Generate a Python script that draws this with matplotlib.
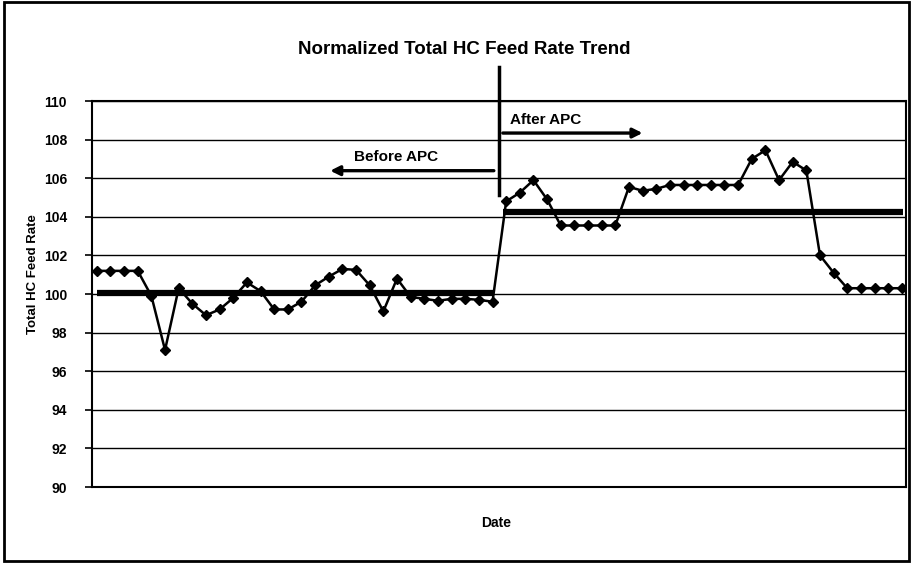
import matplotlib
matplotlib.use("Agg")
import matplotlib.pyplot as plt
from matplotlib.patches import Rectangle
import numpy as np

plt.rcParams['font.family'] = ['Liberation Sans', 'DejaVu Sans']
plt.rcParams['font.weight'] = 'bold'

title = "Normalized Total HC Feed Rate Trend"
y_label = "Total HC Feed Rate"
x_label = "Date"
y_ticks = [90, 92, 94, 96, 98, 100, 102, 104, 106, 108, 110]

feed_before = [101.2, 101.2, 101.2, 101.2, 99.9, 97.1, 100.3, 99.5, 98.9, 99.2,
               99.8, 100.6, 100.15, 99.2, 99.2,
               99.6, 100.45, 100.9, 101.3, 101.25, 100.45, 99.1, 100.8, 99.85, 99.75,
               99.65, 99.75, 99.75, 99.7, 99.6]
feed_after = [104.8, 105.25, 105.9, 104.9, 103.55, 103.55, 103.55, 103.55, 103.55, 105.55,
              105.35, 105.45, 105.65, 105.65, 105.65, 105.65, 105.65, 105.65, 107.0, 107.45,
              105.9, 106.85, 106.4, 102.0, 101.1, 100.3, 100.3, 100.3, 100.3, 100.3]
mean_before = 100.05
mean_after = 104.25

feed = feed_before + feed_after
x = np.arange(len(feed))
n_b = len(feed_before)

fig = plt.figure(figsize=(9.13, 5.64), dpi=100)
ax = fig.add_axes([0.1008, 0.1365, 0.8915, 0.6844])

ax.plot(x, feed, color='black', lw=1.8, marker='D', ms=5, zorder=4)
ax.plot([x[0], x[n_b - 1]], [mean_before, mean_before], color='black', lw=4.5,
        solid_capstyle='butt', zorder=3)
ax.plot([x[n_b - 1] + 0.8, x[-1] + 0.1], [mean_after, mean_after], color='black', lw=4.5,
        solid_capstyle='butt', zorder=3)

ax.set_ylim(90, 110)
ax.set_xlim(-0.35, len(feed) - 0.7)
ax.set_yticks(y_ticks)
ax.set_yticklabels([str(t) for t in y_ticks], fontsize=10, fontweight='bold')
ax.set_xticks([])
ax.grid(axis='y', color='black', lw=1.0)
ax.set_axisbelow(True)
ax.tick_params(axis='y', direction='out', length=5, width=1.2, pad=13)
for s in ax.spines.values():
    s.set_linewidth(1.5)

fig.text(33 / 913, 0.514, y_label, rotation=90, ha='center', va='center',
         fontsize=9.5, fontweight='bold')
fig.text(496 / 913, 1 - 523 / 564, x_label, ha='center', va='center',
         fontsize=10, fontweight='bold')
fig.text(464 / 913, 1 - 50 / 564, title, ha='center', va='center', fontsize=13.5,
         fontweight='bold')

# divider line
sep = n_b - 0.55
ax.plot([sep, sep], [105.15, 111.75], color='black', lw=2.5, clip_on=False, zorder=5)

# arrows
ax.annotate('', xy=(16.9, 106.39), xytext=(sep - 0.15, 106.39),
            arrowprops=dict(arrowstyle='-|>', color='black', lw=2.4, mutation_scale=14))
ax.text(21.9, 107.1, 'Before APC', ha='center', va='center', fontsize=11, fontweight='bold')
ax.annotate('', xy=(40.2, 108.34), xytext=(sep + 0.1, 108.34),
            arrowprops=dict(arrowstyle='-|>', color='black', lw=2.4, mutation_scale=14))
ax.text(30.3, 109.0, 'After APC', ha='left', va='center', fontsize=11, fontweight='bold')

fig.patches.append(Rectangle((0.004, 0.006), 0.992, 0.99, transform=fig.transFigure,
                             fill=False, edgecolor='black', lw=2))

fig.savefig("out.png", dpi=100)
